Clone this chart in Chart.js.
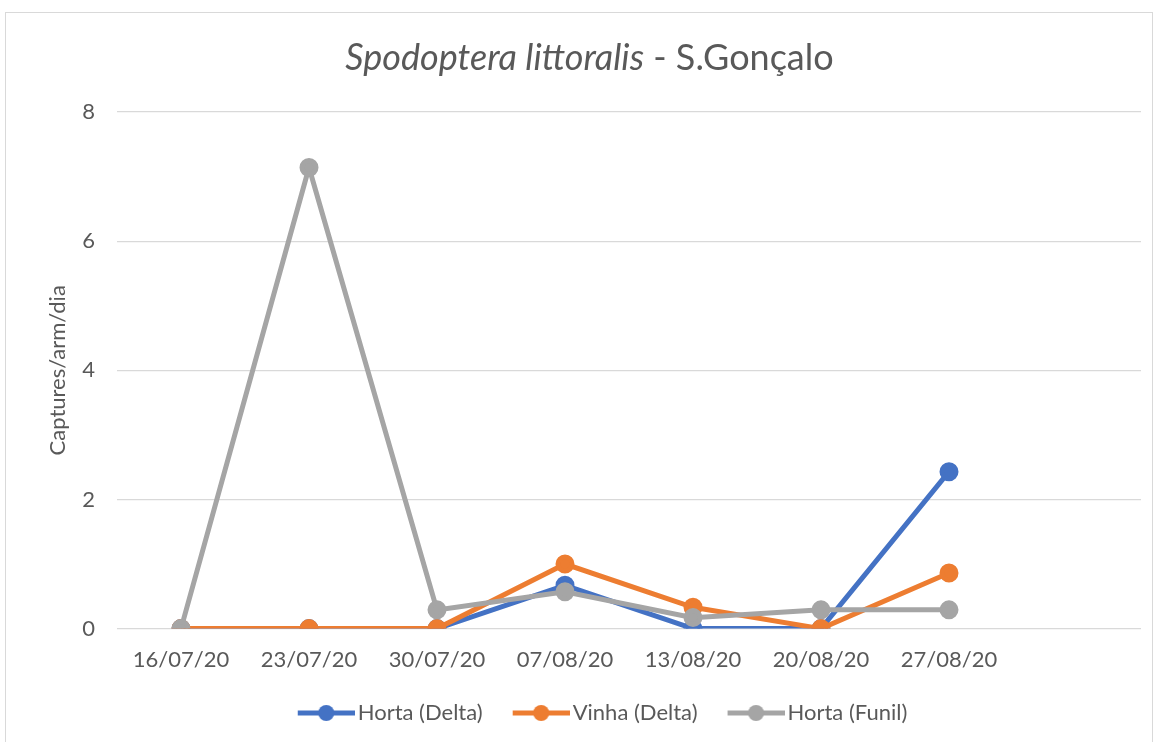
<!DOCTYPE html>
<html>
<head>
<meta charset="utf-8">
<script src="https://cdn.jsdelivr.net/npm/chart.js@4"></script>
<style>
    body { margin: 0; background: #fff; }
    #wrap { position: relative; width: 1159px; height: 742px; overflow: hidden; }
    #frame { position: absolute; left: 5px; top: 12px; width: 1148px; height: 740px; border: 1px solid #d9d9d9; box-sizing: border-box; }
    #title { position: absolute; left: 0; width: 1179px; top: 34px; text-align: center; font: 36px Lato, sans-serif; color: #595959; }
    canvas { position: absolute; left: 0; top: 0; }
</style>
</head>
<body>
<div id="wrap">
    <div id="frame"></div>
    <canvas id="myChart" width="1159" height="742"></canvas>
    <div id="title"><i>Spodoptera littoralis</i> - S.Gonçalo</div>
</div>
<script>
const dateLabels = ['16/07/20', '23/07/20', '30/07/20', '07/08/20', '13/08/20', '20/08/20', '27/08/20', ''];
const hortaDelta = [0, 0, 0, 0.67, 0, 0, 2.43];
const vinhaDelta = [0, 0, 0, 1.0, 0.33, 0, 0.86];
const hortaFunil = [0, 7.14, 0.29, 0.57, 0.17, 0.29, 0.29];
const yTicks = [0, 2, 4, 6, 8];

const textColor = '#595959';

// legend marker: line with a dot, sitting at the right side of a wider box
function legendMarker(color) {
    const c = document.createElement('canvas');
    c.width = 84;
    c.height = 18;
    const g = c.getContext('2d');
    g.strokeStyle = color;
    g.lineWidth = 5;
    g.beginPath();
    g.moveTo(27, 9);
    g.lineTo(84, 9);
    g.stroke();
    g.fillStyle = color;
    g.beginPath();
    g.arc(55.5, 9, 8, 0, Math.PI * 2);
    g.fill();
    return c;
}

function series(label, data, color, order) {
    return {
        label: label,
        data: data,
        borderColor: color,
        backgroundColor: color,
        pointBackgroundColor: color,
        pointBorderColor: color,
        borderWidth: 5,
        pointRadius: 7,
        pointHoverRadius: 7,
        tension: 0,
        order: order,
        pointStyle: 'circle',
        marker: legendMarker(color)
    };
}

const ctx = document.getElementById('myChart').getContext('2d');
new Chart(ctx, {
    type: 'line',
    data: {
        labels: dateLabels,
        datasets: [
            series('Horta (Delta)', hortaDelta, '#4472C4', 3),
            series('Vinha (Delta)', vinhaDelta, '#ED7D31', 2),
            series('Horta (Funil)', hortaFunil, '#A5A5A5', 1)
        ]
    },
    options: {
        responsive: false,
        devicePixelRatio: 1,
        animation: false,
        layout: { padding: { left: 45, right: 18, top: 112, bottom: 8 } },
        plugins: {
            title: { display: false },
            tooltip: { enabled: false },
            legend: {
                position: 'bottom',
                labels: {
                    color: textColor,
                    font: { family: 'Lato', size: 22 },
                    usePointStyle: true,
                    pointStyleWidth: 68,
                    padding: 11,
                    sort: (a, b) => a.datasetIndex - b.datasetIndex,
                    generateLabels: function(chart) {
                        return chart.data.datasets.map((ds, i) => ({
                            text: ds.label,
                            fontColor: textColor,
                            pointStyle: ds.marker,
                            lineWidth: 0,
                            strokeStyle: 'transparent',
                            fillStyle: ds.borderColor,
                            hidden: false,
                            datasetIndex: i
                        }));
                    }
                }
            }
        },
        scales: {
            x: {
                offset: true,
                grid: { display: false, drawTicks: false },
                border: { display: false },
                ticks: {
                    color: textColor,
                    font: { family: 'Lato', size: 22 },
                    padding: 18,
                    maxRotation: 0,
                    autoSkip: false
                }
            },
            y: {
                min: 0,
                max: 8,
                afterFit: function(scale) { scale.width = 72; },
                afterBuildTicks: function(scale) { scale.ticks = yTicks.map(v => ({ value: v })); },
                grid: { color: '#d9d9d9', lineWidth: 1.3, drawTicks: false },
                border: { display: false },
                ticks: {
                    color: textColor,
                    font: { family: 'Lato', size: 22 },
                    padding: 22
                },
                title: {
                    display: true,
                    text: 'Captures/arm/dia',
                    color: textColor,
                    font: { family: 'Lato', size: 22 },
                    padding: 0
                }
            }
        }
    }
});
</script>
</body>
</html>
